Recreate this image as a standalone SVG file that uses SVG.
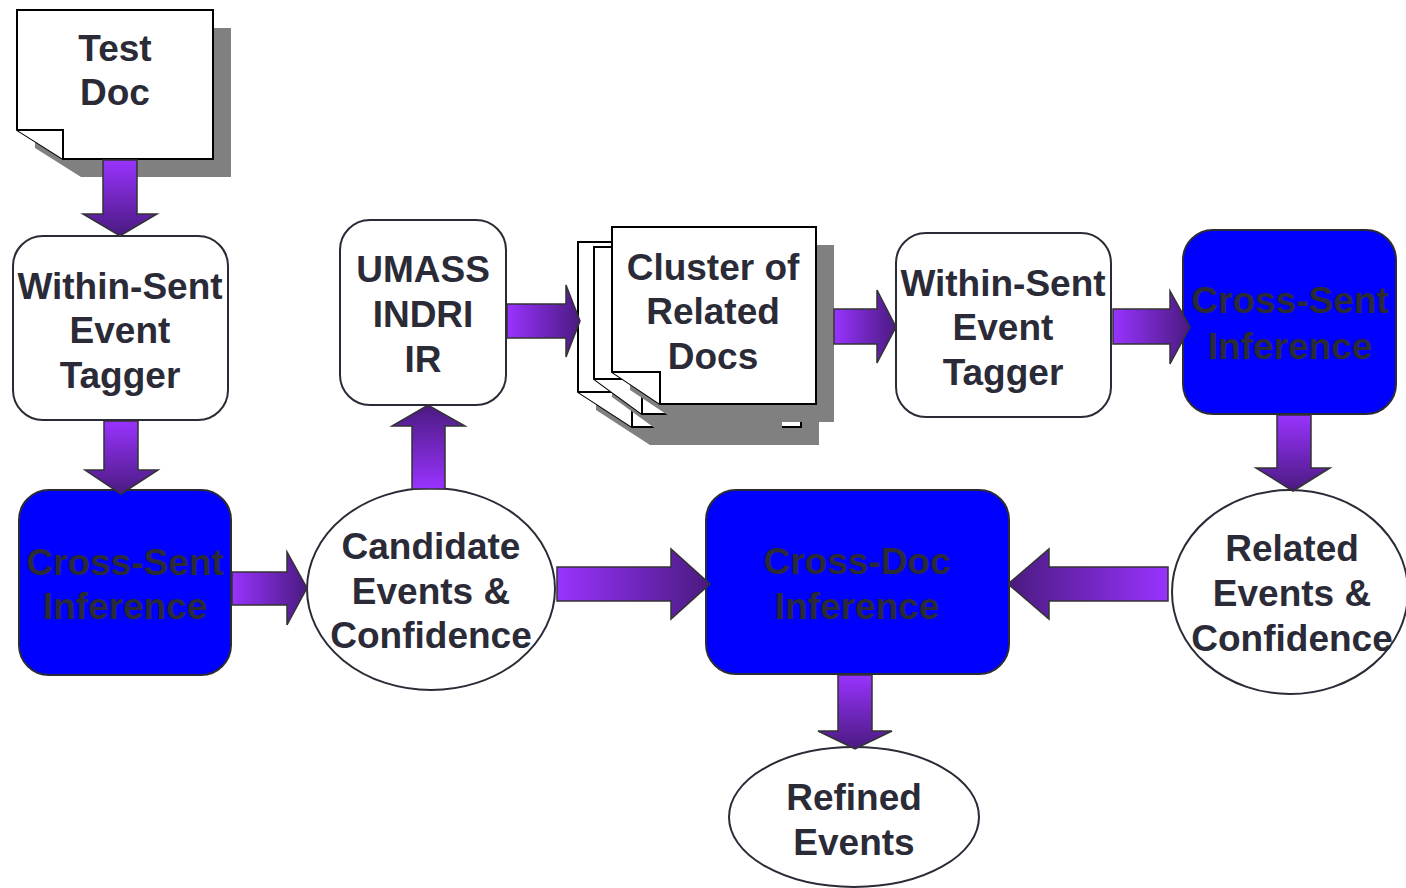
<svg xmlns="http://www.w3.org/2000/svg" width="1406" height="888" viewBox="0 0 1406 888">
<defs>
<linearGradient id="gR" x1="0" y1="0" x2="1" y2="0"><stop offset="0" stop-color="#9933ff"/><stop offset="1" stop-color="#4a1a80"/></linearGradient>
<linearGradient id="gL" x1="1" y1="0" x2="0" y2="0"><stop offset="0" stop-color="#9933ff"/><stop offset="1" stop-color="#4a1a80"/></linearGradient>
<linearGradient id="gD" x1="0" y1="0" x2="0" y2="1"><stop offset="0" stop-color="#9933ff"/><stop offset="1" stop-color="#4a1a80"/></linearGradient>
<linearGradient id="gU" x1="0" y1="1" x2="0" y2="0"><stop offset="0" stop-color="#9933ff"/><stop offset="1" stop-color="#4a1a80"/></linearGradient>
<style>
.box{fill:#ffffff;stroke:#2b2b38;stroke-width:2}
.blue{fill:#0000ff;stroke:#2b2b38;stroke-width:2}
.page{fill:#ffffff;stroke:#000000;stroke-width:2;stroke-linejoin:miter}
.shadow{fill:#808080;stroke:none}
.t{font-family:"Liberation Sans",Arial,sans-serif;font-weight:bold;font-size:37px;fill:#2b2b38;text-anchor:middle}
.ar{stroke:#333333;stroke-width:1.5;stroke-linejoin:miter}
</style>
</defs>
<rect width="1406" height="888" fill="#ffffff"/>

<g id="test-doc">
<polygon class="shadow" points="35,28 231,28 231,177 81,177 35,148"/>
<polygon class="page" points="17,10 213,10 213,159 63,159 17,130"/>
<polyline class="page" fill="none" points="17,130 63,130 63,159"/>
<text class="t" x="115" y="61">Test</text>
<text class="t" x="115" y="105">Doc</text>
</g>

<g id="tagger-1">
<rect class="box" x="13" y="236" width="215" height="184" rx="30"/>
<text class="t" x="120" y="299">Within-Sent</text>
<text class="t" x="120" y="343">Event</text>
<text class="t" x="120" y="388">Tagger</text>
</g>

<g id="cross-sent-1">
<rect class="blue" x="19" y="490" width="212" height="185" rx="30"/>
<text class="t" x="125" y="575">Cross-Sent</text>
<text class="t" x="125" y="619">Inference</text>
</g>

<g id="candidate">
<ellipse class="box" cx="431" cy="589" rx="124" ry="101"/>
<text class="t" x="431" y="559">Candidate</text>
<text class="t" x="431" y="604">Events &amp;</text>
<text class="t" x="431" y="648">Confidence</text>
</g>

<g id="umass">
<rect class="box" x="340" y="220" width="166" height="185" rx="30"/>
<text class="t" x="423" y="282">UMASS</text>
<text class="t" x="423" y="327">INDRI</text>
<text class="t" x="423" y="372">IR</text>
</g>

<g id="cluster">
<polygon class="shadow" points="596,260 819,260 819,445 650,445 596,410"/>
<polygon class="page" points="578,242 801,242 801,427 632,427 578,392"/>
<polyline class="page" fill="none" points="578,392 632,392 632,427"/>
<polygon class="shadow" points="612,265 782,265 782,432 660,432 612,397"/>
<polygon class="page" points="594,247 764,247 764,414 642,414 594,379"/>
<polyline class="page" fill="none" points="594,379 642,379 642,414"/>
<polygon class="shadow" points="630,245 834,245 834,422 678,422 630,390"/>
<polygon class="page" points="612,227 816,227 816,404 660,404 612,372"/>
<polyline class="page" fill="none" points="612,372 660,372 660,404"/>
<text class="t" x="713" y="280">Cluster of</text>
<text class="t" x="713" y="324">Related</text>
<text class="t" x="713" y="369">Docs</text>
</g>

<g id="tagger-2">
<rect class="box" x="896" y="233" width="215" height="184" rx="30"/>
<text class="t" x="1003" y="296">Within-Sent</text>
<text class="t" x="1003" y="340">Event</text>
<text class="t" x="1003" y="385">Tagger</text>
</g>

<g id="cross-sent-2">
<rect class="blue" x="1183" y="230" width="213" height="184" rx="30"/>
<text class="t" x="1290" y="313">Cross-Sent</text>
<text class="t" x="1290" y="359">Inference</text>
</g>

<g id="related">
<ellipse class="box" cx="1290" cy="592" rx="118" ry="102"/>
<text class="t" x="1292" y="561">Related</text>
<text class="t" x="1292" y="606">Events &amp;</text>
<text class="t" x="1292" y="651">Confidence</text>
</g>

<g id="cross-doc">
<rect class="blue" x="706" y="490" width="303" height="184" rx="30"/>
<text class="t" x="857" y="574">Cross-Doc</text>
<text class="t" x="857" y="619">Inference</text>
</g>

<g id="refined">
<ellipse class="box" cx="854" cy="817" rx="125" ry="70"/>
<text class="t" x="854" y="810">Refined</text>
<text class="t" x="854" y="855">Events</text>
</g>

<g id="connectors">
<polygon class="ar" fill="url(#gD)" points="103,160 137,160 137,214 157,214 120,236 83,214 103,214"/>
<polygon class="ar" fill="url(#gD)" points="104,421 138,421 138,470 158,470 121,494 85,470 104,470"/>
<polygon class="ar" fill="url(#gR)" points="232,572 287,572 287,552 307,588 287,625 287,605 232,605"/>
<polygon class="ar" fill="url(#gU)" points="412,489 445,489 445,426 465,426 428,405 392,426 412,426"/>
<polygon class="ar" fill="url(#gR)" points="507,304 566,304 566,285 580,321 566,357 566,338 507,338"/>
<polygon class="ar" fill="url(#gR)" points="834,309 877,309 877,290 896,327 877,363 877,344 834,344"/>
<polygon class="ar" fill="url(#gR)" points="1113,309 1170,309 1170,291 1190,327 1170,364 1170,344 1113,344"/>
<polygon class="ar" fill="url(#gD)" points="1277,415 1311,415 1311,468 1330,468 1293,491 1256,468 1277,468"/>
<polygon class="ar" fill="url(#gL)" points="1168,567 1049,567 1049,549 1008,584 1049,619 1049,601 1168,601"/>
<polygon class="ar" fill="url(#gR)" points="557,567 671,567 671,549 710,584 671,619 671,601 557,601"/>
<polygon class="ar" fill="url(#gD)" points="838,675 872,675 872,731 892,731 855,749 818,731 838,731"/>
</g>
</svg>
